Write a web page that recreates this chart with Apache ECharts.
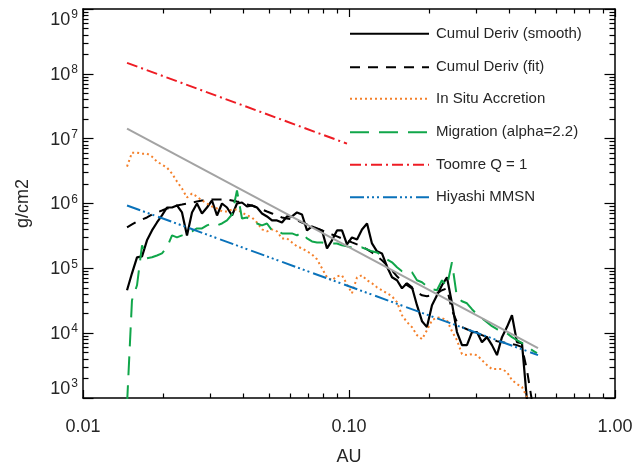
<!DOCTYPE html>
<html><head><meta charset="utf-8">
<script src="https://cdn.jsdelivr.net/npm/echarts@6/dist/echarts.min.js"></script>
<style>html,body{margin:0;padding:0;background:#fff}#c{width:642px;height:464px}</style>
</head><body><div id="c"></div>
<script>
// ---- data (AU vs surface density g/cm2) ----
const auGrid = [0.01464,0.01528,0.01596,0.01667,0.01740,0.01817,0.01897,0.01981,0.02069,0.02161,
0.02256,0.02356,0.02460,0.02569,0.02682,0.02801,0.02925,0.03054,0.03190,0.03331,
0.03478,0.03632,0.03792,0.03960,0.04135,0.04318,0.04509,0.04709,0.04917,0.05135,
0.05362,0.05599,0.05847,0.06105,0.06375,0.06657,0.06952,0.07259,0.07580,0.07916,
0.08266,0.08631,0.09013,0.09412,0.09828,0.1026,0.1072,0.1119,0.1169,0.1220,
0.1274,0.1330,0.1389,0.1451,0.1515,0.1582,0.1652,0.1725,0.1801,0.1881,
0.1964,0.2051,0.2142,0.2236,0.2335,0.2438,0.2546,0.2659,0.2776,0.2899,
0.3027,0.3161,0.3301,0.3447,0.3600,0.3759,0.3925,0.4099,0.4280,0.4469,
0.4667,0.4873,0.5089];

const cumulSmooth = [45900,83800,147600,153000,270000,384000,510000,654000,868000,868000,
932000,727000,322000,727000,1000000,702000,868000,1112000,654000,1000000,
868000,654000,1000000,1036000,899000,932000,868000,702000,631000,548000,
548000,510000,631000,631000,727000,677000,384000,443000,412000,384000,
203000,270000,384000,384000,234000,300000,279000,398000,492000,242000,
183000,170000,107000,72700,65400,49200,58800,51000,27000,15300,
12400,27000,38400,54800,72700,28900,10400,6540,6540,10400,
10400,7270,8680,6540,4590,8680,12400,18900,7270,7020,920];

const cumulFit = [427000,475000,529000,567000,609000,677000,727000,780000,838000,868000,
932000,965000,1000000,1036000,1073000,1112000,1112000,1152000,1152000,1152000,
1152000,1112000,1073000,1036000,965000,932000,868000,809000,753000,702000,
654000,609000,588000,567000,548000,510000,475000,443000,412000,384000,
358000,333000,311000,289000,270000,251000,234000,218000,196000,176000,
153000,133000,111000,93200,75300,63100,54800,49200,42700,38400,
37100,38400,41200,45900,49200,22600,14800,12400,11500,10700,
10000,9320,8680,8090,7530,7270,7020,6770,6540,6090,2700,900];

const inSitu = [3709000,6090000,6090000,5878000,5878000,5285000,4428000,3981000,3580000,2894000,
2180000,1701000,1237000,1425000,1281000,1112000,1000000,899000,838000,753000,
753000,809000,809000,727000,654000,609000,510000,398000,371000,398000,
371000,289000,289000,251000,218000,203000,183000,164000,138000,100000,
72700,65400,75300,78000,56700,41200,72700,78000,65400,58800,
51000,45900,41200,37100,30000,18900,14800,12400,9320,8090,
11100,15800,17600,17000,15800,10700,7800,4750,4590,4750,
4590,3840,3220,2790,2790,2790,2510,1890,1640,1480,1040];

const migration = [800,32200,54800,226000,143000,148000,158000,170000,210000,322000,
300000,322000,346000,371000,412000,412000,459000,492000,459000,492000,
548000,677000,1585000,588000,609000,510000,492000,459000,492000,384000,
384000,346000,346000,346000,322000,358000,289000,260000,251000,251000,
242000,242000,242000,226000,218000,210000,203000,210000,196000,183000,
176000,158000,138000,124000,104000,89900,93200,86800,65400,60900,
52900,47500,45900,65400,52900,124000,35800,31100,28900,23400,
19600,17000,14800,12800,11500,10700,10000,8680,7800,7020,
6540,5480,4920];

const toomreAU = [0.01464, 0.09828];
const toomre = [1.476e8, 8.377e6];
const mmsnAU = [0.01464, 0.5135];
const mmsn = [9.32e5, 4.59e3];
const powerLawAU = [0.01464, 0.5135];
const powerLaw = [1.425e7, 5.88e3];

const seriesNames = ['Cumul Deriv (smooth)','Cumul Deriv (fit)','In Situ Accretion','Migration (alpha=2.2)','Toomre Q = 1','Hiyashi MMSN'];
const xTicks = [0.01, 0.1, 1];
const xTickLabels = ['0.01', '0.10', '1.00'];
const yTicks = [1e3, 1e4, 1e5, 1e6, 1e7, 1e8, 1e9];
const xMinorTicks = [0.02,0.03,0.04,0.05,0.06,0.07,0.08,0.09,0.2,0.3,0.4,0.5,0.6,0.7,0.8,0.9];
const yMinorTicks = [];
[1e3,1e4,1e5,1e6,1e7,1e8].forEach(d => { for (let m = 2; m <= 9; m++) yMinorTicks.push(m * d); });

// ---- build ----
const FONT = "'Liberation Sans', Arial, Helvetica, sans-serif";
const TXT = '#262626';
function zip(xs, ys) { return ys.map((y, i) => [xs[i], y]); }

function xAx(pos, ticks, len, showLine, labels) {
  return {
    type: 'log', logBase: 10, min: 0.01, max: 1, position: pos,
    axisLine: { show: showLine, lineStyle: { color: '#000', width: 1.5 } },
    axisTick: { show: true, inside: true, length: len, customValues: ticks, lineStyle: { color: '#000', width: 1.2 } },
    axisLabel: labels ? {
      show: true, customValues: xTicks, margin: 20,
      formatter: v => xTickLabels[xTicks.findIndex(t => Math.abs(Math.log10(t) - Math.log10(v)) < 1e-6)],
      fontSize: 18, fontFamily: FONT, color: TXT
    } : { show: false },
    splitLine: { show: false }, minorTick: { show: false }, minorSplitLine: { show: false },
    name: labels ? 'AU' : '', nameLocation: 'middle', nameGap: 50,
    nameTextStyle: { fontSize: 18, fontFamily: FONT, color: TXT }
  };
}
function yAx(pos, ticks, len, showLine, labels) {
  return {
    type: 'log', logBase: 10, min: 1e3, max: 1e9, position: pos,
    axisLine: { show: showLine, lineStyle: { color: '#000', width: 1.5 } },
    axisTick: { show: true, inside: true, length: len, customValues: ticks, lineStyle: { color: '#000', width: 1.2 } },
    axisLabel: labels ? {
      show: true, customValues: yTicks, margin: 5,
      formatter: v => '{b|10}{s|' + Math.round(Math.log10(v)) + '}',
      verticalAlignMinLabel: 'bottom', verticalAlignMaxLabel: 'top',
      rich: {
        b: { fontSize: 18, fontFamily: FONT, color: TXT, lineHeight: 20, verticalAlign: 'bottom' },
        s: { fontSize: 12, fontFamily: FONT, color: TXT, lineHeight: 12, verticalAlign: 'top', padding: [0, 0, 0, 1] }
      }
    } : { show: false },
    splitLine: { show: false }, minorTick: { show: false }, minorSplitLine: { show: false },
    name: labels ? 'g/cm2' : '', nameLocation: 'middle', nameGap: 51,
    nameTextStyle: { fontSize: 18, fontFamily: FONT, color: TXT }
  };
}

function line(name, xs, ys, color, width, type) {
  return {
    name: name, type: 'line', data: zip(xs, ys), symbol: 'none', showSymbol: false,
    xAxisIndex: 0, yAxisIndex: 0, clip: true, silent: true, animation: false,
    lineStyle: { color: color, width: width, type: type, cap: 'butt' },
    itemStyle: { color: color }, emphasis: { disabled: true }
  };
}

const styles = [
  ['#000000', 2.2, 'solid'],
  ['#000000', 2, [10, 8]],
  ['#f4802b', 2, [2, 3]],
  ['#10a64a', 2, [19, 10]],
  ['#ee1c24', 2, [11, 4, 2, 4]],
  ['#0a72ba', 2, [14, 3, 2, 3, 2, 3, 2, 4]]
];
const rowY = [33.3, 66.7, 98.3, 131.7, 164.3, 196.7];

const series = [
  line(seriesNames[0], auGrid, cumulSmooth, ...styles[0]),
  line(seriesNames[1], auGrid, cumulFit, ...styles[1]),
  line(seriesNames[2], auGrid, inSitu, ...styles[2]),
  line(seriesNames[3], auGrid, migration, ...styles[3]),
  line(seriesNames[4], toomreAU, toomre, ...styles[4]),
  line(seriesNames[5], mmsnAU, mmsn, ...styles[5]),
  line('power law', powerLawAU, powerLaw, '#a3a3a3', 2, 'solid')
];

const legends = seriesNames.map((n, i) => ({
  show: true, data: [n], orient: 'horizontal', left: 349, top: rowY[i] - 7,
  padding: 0, itemGap: 0, itemWidth: 79, itemHeight: 14, selectedMode: false,
  itemStyle: { opacity: 0, borderWidth: 0 },
  textStyle: { fontSize: 15, fontFamily: FONT, color: TXT, padding: [0, 0, 5, 2] }
}));

const chart = echarts.init(document.getElementById('c'), null, { renderer: 'canvas' });
chart.setOption({
  animation: false,
  backgroundColor: '#ffffff',
  grid: { left: 83, right: 27, top: 9, bottom: 66, containLabel: false, outerBoundsMode: 'none' },
  xAxis: [
    xAx('bottom', xTicks, 8, true, true),
    xAx('bottom', xMinorTicks, 4.5, false, false),
    xAx('top', xTicks, 8, true, false),
    xAx('top', xMinorTicks, 4.5, false, false)
  ],
  yAxis: [
    yAx('left', yTicks, 10.5, true, true),
    yAx('left', yMinorTicks, 5.5, false, false),
    yAx('right', yTicks, 10.5, true, false),
    yAx('right', yMinorTicks, 5.5, false, false)
  ],
  legend: legends,
  tooltip: { show: false },
  series: series
});
</script>
</body></html>
